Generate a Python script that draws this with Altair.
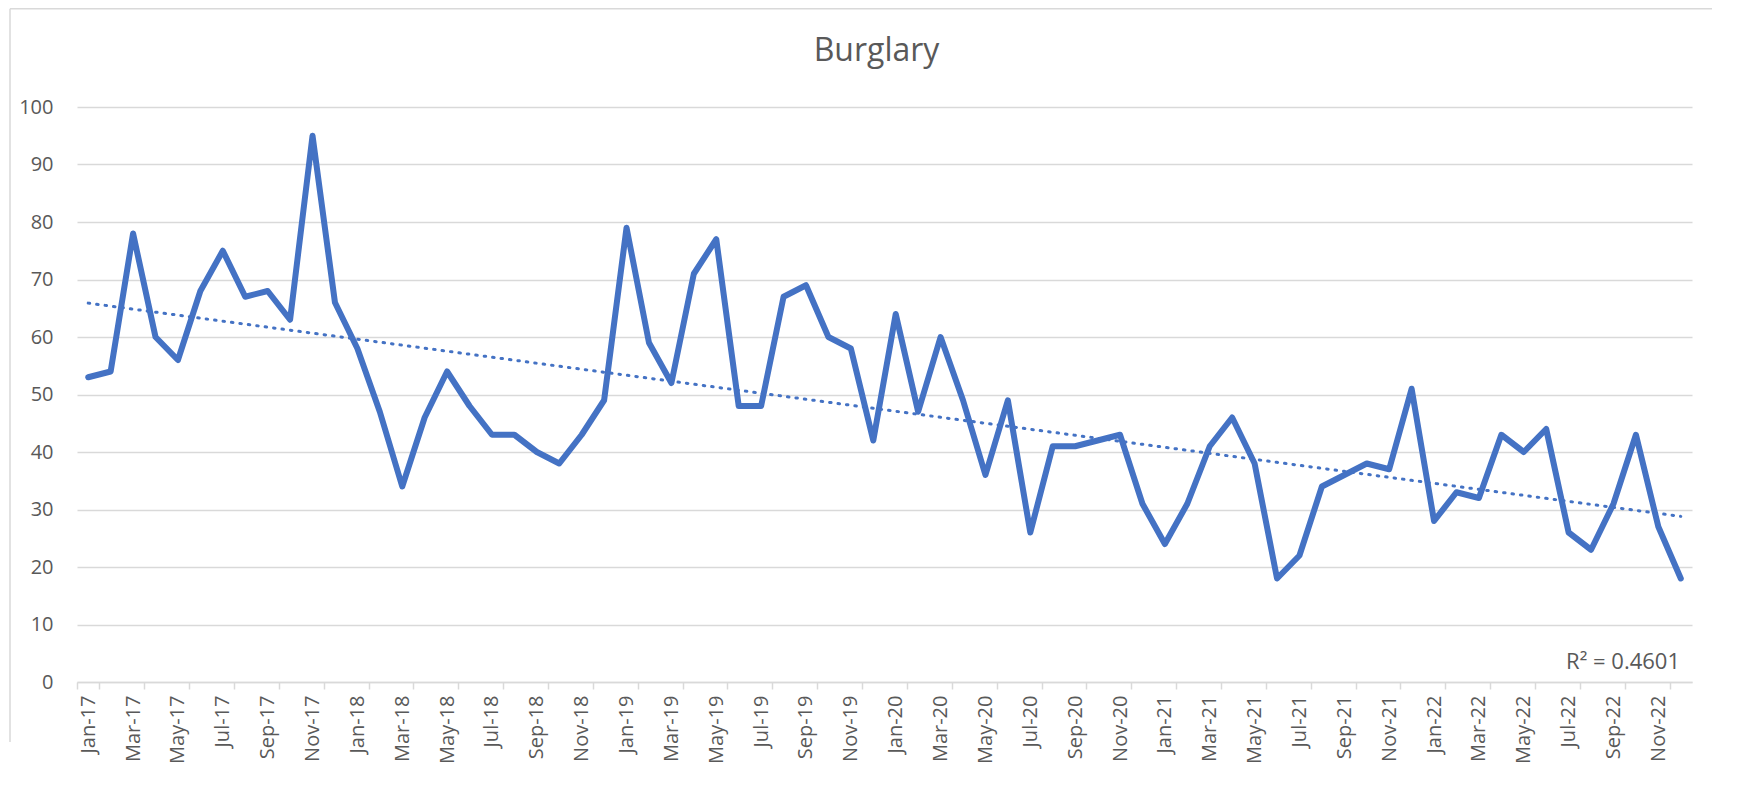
import altair as alt
import pandas as pd
import numpy as np

# ---- data ----
months = list(pd.date_range("2017-01-01", periods=72, freq="MS").strftime("%b-%y"))
burglary = [53, 54, 78, 60, 56, 68, 75, 67, 68, 63, 95, 66,
            58, 47, 34, 46, 54, 48, 43, 43, 40, 38, 43, 49,
            79, 59, 52, 71, 77, 48, 48, 67, 69, 60, 58, 42,
            64, 47, 60, 49, 36, 49, 26, 41, 41, 42, 43, 31,
            24, 31, 41, 46, 38, 18, 22, 34, 36, 38, 37, 51,
            28, 33, 32, 43, 40, 44, 26, 23, 31, 43, 27, 18]
y_ticks = list(range(0, 101, 10))
x_tick_labels = months[::2]
r2_label = ["R² = 0.4601"]
title_text = ["Burglary"]

# linear trend (least squares) over the month index
idx = np.arange(len(burglary))
slope, intercept = np.polyfit(idx, burglary, 1)
df = pd.DataFrame({"month": months, "burglary": burglary,
                   "trend": intercept + slope * idx})

W, H = 1615, 575
FONT = "Open Sans"
GREY = "#595959"
BLUE = "#4472C4"
FRAME = "#d9d9d9"

x_enc = alt.X(
    "month:N", sort=months, bandPosition=0.5,
    scale=alt.Scale(type="band", paddingInner=0, paddingOuter=0),
    axis=alt.Axis(title=None, values=x_tick_labels, labelAngle=-90,
                  tickBand="extent", tickSize=7, tickColor="#d9d9d9",
                  tickWidth=1.5, domainColor="#d9d9d9", domainWidth=1.5,
                  labelPadding=6, grid=False, labelFontSize=20,
                  labelColor=GREY, labelFont=FONT),
)
y_axis = alt.Axis(title=None, values=y_ticks, domain=False, ticks=False,
                  grid=True, gridColor="#d9d9d9", gridWidth=1.5,
                  labelPadding=24, labelFontSize=20, labelColor=GREY,
                  labelFont=FONT)

base = alt.Chart(df)
line = base.mark_line(color=BLUE, strokeWidth=6, strokeJoin="round",
                      strokeCap="round").encode(
    x=x_enc,
    y=alt.Y("burglary:Q", scale=alt.Scale(domain=[0, 100]), axis=y_axis),
)
trend = base.mark_line(color=BLUE, strokeWidth=3, strokeDash=[1.5, 7],
                       strokeCap="round").encode(
    x=x_enc,
    y=alt.Y("trend:Q", scale=alt.Scale(domain=[0, 100]), axis=y_axis),
)
r2 = alt.Chart(pd.DataFrame({"label": r2_label})).mark_text(
    align="right", baseline="alphabetic", font=FONT, fontSize=22, color=GREY
).encode(text="label:N", x=alt.value(W - 12), y=alt.value(H - 13))

title = alt.Chart(pd.DataFrame({"label": title_text})).mark_text(
    align="center", baseline="alphabetic", font=FONT, fontSize=32, color=GREY
).encode(text="label:N", x=alt.value(W / 2 - 8), y=alt.value(-46))

# chart-area frame: only its top and left edges fall inside the picture
frame_df = pd.DataFrame({"f": [0]})
frame_top = alt.Chart(frame_df).mark_rule(color=FRAME, strokeWidth=1.5).encode(
    x=alt.value(-67), x2=alt.value(W + 20), y=alt.value(-98.25))
frame_left = alt.Chart(frame_df).mark_rule(color=FRAME, strokeWidth=1.5).encode(
    x=alt.value(-67), y=alt.value(-98.25), y2=alt.value(H + 60))

chart = alt.layer(frame_top, frame_left, line, trend, r2, title).properties(
    width=W, height=H,
    autosize=alt.AutoSizeParams(type="none"),
    padding={"left": 69, "top": 99, "right": 38, "bottom": 90},
    background="white",
).configure_view(stroke=None)

chart.save("out.html", embed_options={"renderer": "svg", "actions": False})
